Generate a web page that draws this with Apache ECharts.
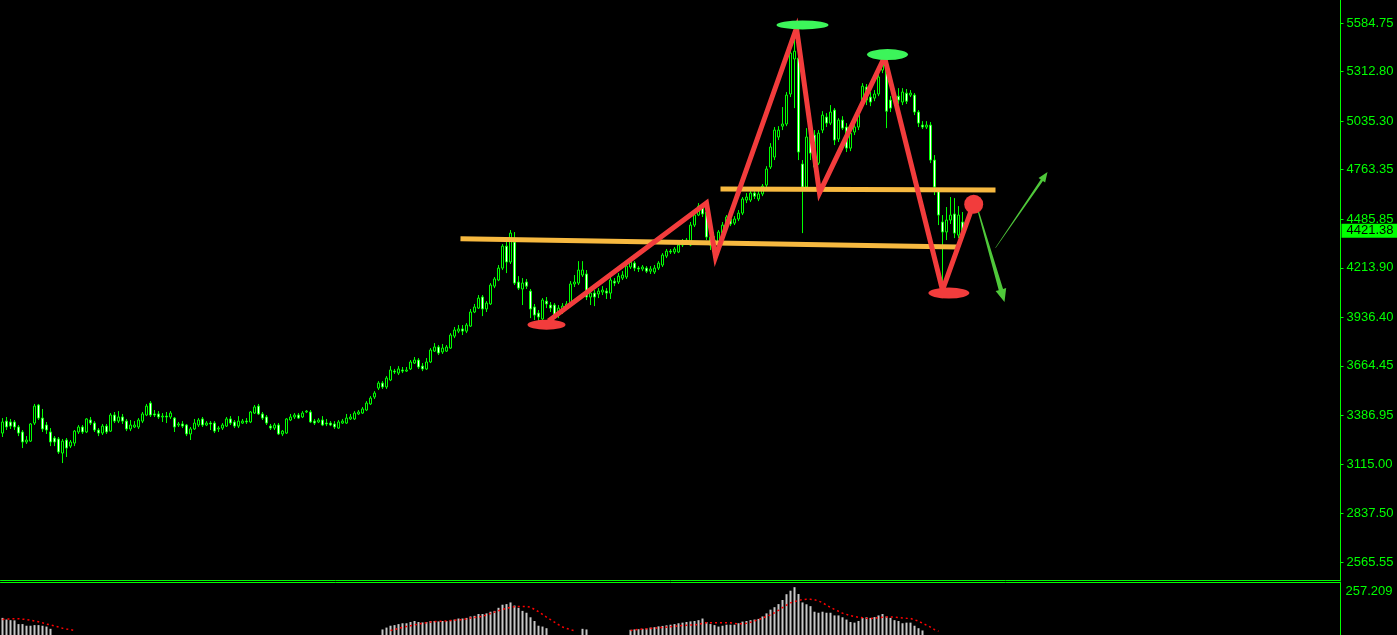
<!DOCTYPE html>
<html><head><meta charset="utf-8">
<script src="https://cdn.jsdelivr.net/npm/echarts@6/dist/echarts.min.js"></script>
<style>html,body{margin:0;padding:0;background:#000;overflow:hidden}#c{width:1397px;height:635px}</style>
</head><body><div id="c"></div>
<script>
// ---------------- DATA ----------------
const slotCount = 335;
const priceTicks = [5584.75, 5312.80, 5035.30, 4763.35, 4485.85, 4213.90, 3936.40, 3664.45, 3386.95, 3115.00, 2837.50, 2565.55];
const priceRange = [2465.0, 5713.6];
const lastPrice = 4421.38;
const macdTop = 257.209;

// [open, close, low, high]
const candles = [
[3288,3350,3266,3372],[3355,3322,3305,3378],[3350,3327,3311,3367],[3350,3322,3305,3361],[3322,3288,3271,3333],
[3294,3238,3204,3305],[3238,3249,3227,3271],[3243,3339,3238,3344],[3344,3439,3333,3451],[3445,3372,3361,3451],
[3372,3311,3294,3423],[3333,3305,3283,3350],[3294,3238,3215,3316],[3260,3238,3215,3271],[3255,3182,3171,3266],
[3176,3243,3120,3255],[3249,3204,3154,3260],[3215,3238,3204,3249],[3232,3299,3215,3305],[3294,3322,3283,3333],
[3322,3294,3283,3333],[3294,3367,3288,3372],[3361,3344,3333,3378],[3344,3305,3294,3355],[3305,3288,3271,3316],
[3288,3327,3277,3339],[3327,3294,3283,3339],[3299,3389,3294,3400],[3389,3355,3344,3406],[3355,3378,3344,3411],
[3378,3355,3339,3395],[3355,3311,3299,3367],[3311,3333,3299,3361],[3322,3333,3316,3355],[3322,3361,3311,3372],
[3355,3395,3344,3406],[3389,3439,3383,3451],[3456,3389,3378,3467],[3395,3389,3378,3417],[3395,3378,3367,3411],
[3378,3383,3350,3400],[3383,3378,3344,3406],[3378,3400,3367,3411],[3372,3322,3294,3378],[3333,3339,3322,3350],
[3339,3327,3316,3355],[3333,3283,3271,3339],[3283,3311,3249,3322],[3311,3344,3305,3367],[3333,3361,3322,3372],
[3367,3333,3322,3378],[3333,3344,3327,3355],[3344,3339,3305,3355],[3344,3299,3288,3355],[3311,3316,3294,3327],
[3316,3333,3305,3344],[3327,3367,3322,3378],[3367,3344,3333,3383],[3350,3327,3316,3361],[3327,3355,3316,3383],
[3344,3355,3339,3367],[3355,3350,3339,3372],[3350,3406,3344,3411],[3400,3434,3395,3445],[3439,3395,3389,3451],
[3395,3372,3361,3406],[3378,3344,3333,3389],[3327,3316,3305,3339],[3316,3333,3305,3344],[3333,3283,3277,3344],
[3283,3299,3271,3305],[3288,3367,3283,3372],[3361,3378,3355,3395],[3378,3389,3367,3400],[3389,3372,3367,3400],
[3378,3400,3372,3411],[3406,3411,3400,3417],[3406,3350,3344,3417],[3355,3344,3333,3367],[3350,3361,3344,3372],
[3361,3333,3327,3383],[3344,3339,3327,3367],[3344,3333,3327,3355],[3339,3322,3311,3355],[3316,3350,3311,3361],
[3344,3355,3339,3367],[3344,3372,3339,3395],[3367,3378,3361,3395],[3367,3400,3361,3411],[3395,3406,3389,3417],
[3400,3423,3395,3434],[3417,3456,3411,3467],[3451,3484,3445,3495],[3490,3512,3479,3523],[3540,3568,3529,3579],
[3568,3546,3535,3579],[3546,3596,3535,3607],[3585,3641,3579,3663],[3635,3630,3619,3647],[3624,3647,3613,3663],
[3641,3635,3624,3658],[3635,3641,3630,3658],[3647,3686,3641,3697],[3680,3697,3675,3714],[3697,3658,3647,3708],
[3663,3647,3635,3680],[3647,3686,3641,3708],[3686,3753,3680,3764],[3747,3770,3742,3792],[3770,3736,3725,3781],
[3742,3764,3731,3787],[3747,3770,3742,3781],[3764,3837,3759,3848],[3831,3865,3820,3882],[3859,3871,3848,3893],
[3871,3859,3837,3893],[3859,3893,3848,3904],[3887,3966,3882,3983],[3966,3994,3960,4011],[3988,4044,3983,4061],
[4050,3983,3943,4061],[3983,4016,3966,4027],[4011,4117,4005,4128],[4111,4151,4100,4162],[4145,4212,4139,4229],
[4212,4335,4201,4347],[4335,4246,4184,4369],[4246,4408,4235,4425],[4358,4128,4117,4414],[4134,4100,4089,4167],
[4095,4128,4005,4156],[4134,4111,4095,4151],[4083,3983,3932,4095],[3994,3949,3921,4011],[3960,3938,3915,3977],
[3927,4033,3915,4044],[4027,4011,3988,4050],[4005,3988,3966,4022],[4005,3949,3932,4016],[3949,3988,3932,4005],
[3966,3999,3955,4016],[3994,4011,3983,4027],[4016,4123,4005,4139],[4123,4134,4106,4173],[4128,4201,4117,4251],
[4173,4201,4162,4251],[4179,4050,4033,4201],[4050,4072,4005,4089],[4072,4050,3999,4089],[4067,4083,4044,4100],
[4078,4089,4061,4111],[4083,4072,4039,4100],[4072,4145,4039,4162],[4139,4128,4111,4156],[4134,4167,4123,4184],
[4156,4173,4145,4195],[4162,4223,4151,4235],[4218,4246,4207,4257],[4240,4212,4195,4251],[4212,4207,4190,4223],
[4207,4218,4195,4229],[4212,4195,4184,4223],[4195,4207,4179,4223],[4190,4212,4179,4229],[4212,4240,4201,4251],
[4229,4285,4218,4296],[4279,4307,4268,4319],[4307,4302,4291,4319],[4302,4319,4291,4330],[4302,4341,4296,4352],
[4341,4363,4330,4375],[4352,4369,4341,4380],[4341,4453,4335,4470],[4453,4509,4442,4526],[4509,4559,4503,4576],
[4559,4515,4498,4576],[4526,4386,4369,4565],[4386,4341,4313,4397],[4341,4369,4313,4391],[4347,4414,4335,4425],
[4408,4453,4397,4470],[4464,4498,4453,4509],[4487,4459,4447,4498],[4464,4487,4453,4503],[4487,4520,4475,4537],
[4520,4599,4509,4610],[4593,4610,4576,4632],[4593,4632,4582,4649],[4632,4615,4599,4649],[4599,4627,4587,4649],
[4627,4671,4615,4683],[4677,4767,4666,4783],[4778,4890,4767,4912],[4834,4985,4817,5002],[4946,4985,4929,5007],
[5007,5019,4985,5114],[5019,5181,5007,5198],[5187,5416,5170,5433],[5383,5427,5108,5595],[5388,4862,4817,5433],
[4795,4666,4408,4817],[4666,4946,4649,4996],[4968,4856,4817,4996],[4957,4778,4761,4985],[4800,4968,4789,4985],
[4985,5069,4968,5091],[5058,5024,5002,5080],[5024,5086,5013,5125],[5097,4929,4901,5108],[4935,5041,4918,5052],
[5041,4996,4985,5063],[5002,4884,4862,5024],[4884,4968,4867,4985],[4974,5002,4957,5019],[5002,5069,4985,5086],
[5153,5231,5108,5248],[5226,5153,5125,5243],[5170,5142,5119,5198],[5164,5187,5147,5209],[5187,5282,5175,5310],
[5321,5360,5304,5388],[5343,5091,4996,5377],[5153,5108,5086,5175],[5147,5175,5131,5198],[5175,5153,5131,5220],
[5142,5198,5125,5220],[5192,5147,5131,5215],[5181,5192,5170,5209],[5181,5086,5069,5192],[5086,5024,5002,5097],
[5013,5002,4991,5035],[5002,5013,4991,5035],[5013,4817,4800,5030],[4817,4666,4621,4845],[4649,4509,4453,4660],
[4470,4414,4106,4509],[4414,4481,4369,4554],[4481,4509,4459,4610],[4515,4408,4380,4604],[4397,4509,4380,4559],
[4470,4421.38,4408,4526]
];

// MACD histogram [barIndex, value] (only bars that show above the pane bottom)
const macdHist = [
[0,83],[1,75],[2,72],[3,71],[4,53],[5,53],[6,45],[7,45],[8,48],[9,48],[10,45],[11,41],[12,30],
[95,27],[96,36],[97,45],[98,48],[99,53],[100,57],[101,57],[102,63],[103,68],[104,63],[105,61],[106,63],[107,68],
[108,68],[109,66],[110,68],[111,68],[112,71],[113,75],[114,80],[115,80],[116,83],[117,90],[118,93],[119,102],
[120,102],[121,105],[122,113],[123,117],[124,132],[125,147],[126,150],[127,158],[128,143],[129,132],[130,117],
[131,108],[132,86],[133,68],[134,45],[135,41],[136,33],[145,30],[146,27],
[157,25],[158,27],[159,28],[160,30],[161,32],[162,36],[163,38],[164,42],[165,44],[166,47],[167,50],[168,53],
[169,57],[170,60],[171,63],[172,66],[173,68],[174,72],[175,80],[176,63],[177,53],[178,48],[179,41],[180,45],
[181,50],[182,50],[183,50],[184,57],[185,65],[186,68],[187,72],[188,75],[189,78],[190,90],[191,105],[192,123],
[193,135],[194,150],[195,170],[196,198],[197,215],[198,232],[199,199],[200,158],[201,149],[202,140],[203,113],
[204,108],[205,113],[206,108],[207,108],[208,95],[209,95],[210,86],[211,75],[212,63],[213,60],[214,68],[215,83],
[216,86],[217,83],[218,87],[219,95],[220,102],[221,90],[222,83],[223,72],[224,68],[225,57],[226,60],[227,60],
[228,45],[229,33],[230,22]
];

// MACD signal (dotted) [barIndex, value]; null = not visible
const macdSignal = [
[0,75],[1,77],[2,78],[3,79],[4,79],[5,77],[6,75],[7,72],[8,68],[9,64],[10,59],[11,53],[12,49],[13,44],[14,39],
[15,33],[16,29],[17,26],[18,22],[19,null],
[97,22],[98,27],[99,32],[100,37],[101,41],[102,45],[103,49],[104,53],[105,57],[106,60],[107,63],[108,65],[109,66],
[110,67],[111,68],[112,70],[113,72],[114,73],[115,75],[116,78],[117,82],[118,85],[119,88],[120,91],[121,97],
[122,104],[123,111],[124,118],[125,124],[126,130],[127,134],[128,137],[129,138],[130,138],[131,138],[132,135],
[133,124],[134,113],[135,100],[136,87],[137,75],[138,62],[139,50],[140,39],[141,32],[142,26],[143,21],[144,null],
[157,22],[158,25],[159,27],[160,29],[161,30],[162,32],[163,33],[164,35],[165,37],[166,38],[167,40],[168,42],
[169,44],[170,46],[171,47],[172,48],[173,48],[174,52],[175,56],[176,59],[177,60],[178,60],[179,60],[180,60],
[181,60],[182,59],[183,56],[184,54],[185,55],[186,57],[187,62],[188,68],[189,75],[190,82],[191,90],[192,98],
[193,108],[194,120],[195,133],[196,145],[197,156],[198,162],[199,168],[200,172],[201,173],[202,173],[203,171],
[204,165],[205,157],[206,145],[207,134],[208,124],[209,115],[210,106],[211,100],[212,94],[213,90],[214,86],
[215,84],[216,81],[217,80],[218,82],[219,84],[220,86],[221,87],[222,87],[223,87],[224,85],[225,83],[226,81],
[227,80],[228,74],[229,67],[230,57],[231,48],[232,38],[233,26],[234,18]
];

// Drawn annotations, in [bar position, price]
const supportLine = [[114.5, 4377], [238.75, 4330]];
const necklineLine = [[179.5, 4655], [248.25, 4649]];
const zigzag = [[136.5, 3916], [176, 4577], [178.25, 4274], [198.5, 5557], [204.25, 4633], [220.5, 5394], [235, 4089], [242.75, 4571]];
const topMarks = [[200, 5574], [221.25, 5408]];
const bottomMarks = [[136, 3895], [236.6, 4072]];
const pivotMark = [[242.8, 4570]];
const arrows = [[244, 4526, 250.5, 4022], [248.25, 4325, 261.25, 4750]];

// ---------------- STYLE / RENDER ----------------
const LIME = '#00ff00';
const RED = '#f23c3c';
const categories = [];
for (let i = 0; i < slotCount; i++) categories.push(String(i));
const topMarkSizes = [[52, 9], [41, 11]];
const bottomMarkSizes = [[38, 10], [41, 11]];
const arrowStyles = [
  { w0: 1.2, w1: 4.5, head: 13, headW: 11, color: '#4fc83a' },
  { w0: 0.4, w1: 2.6, head: 10, headW: 8, color: '#4fc83a' }
];

const chart = echarts.init(document.getElementById('c'), null, { renderer: 'canvas' });
const option = {
  backgroundColor: '#000',
  animation: false,
  textStyle: { fontFamily: 'Liberation Sans' },
  grid: [
    { left: 0.5, right: 56.5, top: 0, height: 580 },
    { left: 0.5, right: 56.5, top: 582, height: 58 }
  ],
  xAxis: [
    { type: 'category', gridIndex: 0, data: categories, boundaryGap: true,
      axisLine: { show: true, onZero: false, lineStyle: { color: LIME, width: 1 } },
      axisTick: { show: false }, axisLabel: { show: false }, splitLine: { show: false } },
    { type: 'value', gridIndex: 0, min: -0.5, max: slotCount - 0.5, show: false,
      axisLine: { show: false, onZero: false } },
    { type: 'category', gridIndex: 1, data: categories, boundaryGap: true, position: 'top',
      axisLine: { show: true, onZero: false, lineStyle: { color: LIME, width: 1 } },
      axisTick: { show: false }, axisLabel: { show: false }, splitLine: { show: false } }
  ],
  yAxis: [
    { type: 'value', gridIndex: 0, position: 'right', min: priceRange[0], max: priceRange[1],
      axisLine: { show: true, onZero: false, lineStyle: { color: LIME, width: 1 } },
      axisTick: { show: true, inside: false, length: 3, customValues: priceTicks, lineStyle: { color: LIME } },
      axisLabel: { customValues: priceTicks, color: LIME, fontSize: 13, margin: 6,
        formatter: v => Number(v).toFixed(2) },
      splitLine: { show: false } },
    { type: 'value', gridIndex: 1, position: 'right', min: 0, max: macdTop,
      axisLine: { show: true, onZero: false, lineStyle: { color: LIME, width: 1 } },
      axisTick: { show: false },
      axisLabel: { customValues: [macdTop], color: LIME, fontSize: 13, margin: 5, verticalAlign: 'top',
        padding: [3, 0, 0, 0], formatter: v => Number(v).toFixed(3) },
      splitLine: { show: false } }
  ],
  series: [
    { type: 'candlestick', xAxisIndex: 0, yAxisIndex: 0, data: candles, barWidth: 2, z: 2,
      itemStyle: { color: '#000000', color0: '#ffffff', borderColor: LIME, borderColor0: LIME, borderWidth: 1 },
      markLine: { silent: true, symbol: ['none', 'none'], animation: false,
        lineStyle: { color: 'rgba(0,0,0,0)', width: 0 },
        label: { show: true, position: 'end', distance: 1, formatter: () => lastPrice.toFixed(2),
          color: '#000', backgroundColor: LIME, fontSize: 13, padding: [1, 4, 0, 5] },
        data: [{ yAxis: lastPrice }] } },
    { type: 'line', xAxisIndex: 1, yAxisIndex: 0, data: supportLine, symbol: 'none', z: 4,
      lineStyle: { color: '#f7b940', width: 5, cap: 'butt' } },
    { type: 'line', xAxisIndex: 1, yAxisIndex: 0, data: necklineLine, symbol: 'none', z: 4,
      lineStyle: { color: '#f7b940', width: 5, cap: 'butt' } },
    { type: 'line', xAxisIndex: 1, yAxisIndex: 0, data: zigzag, symbol: 'none', z: 5,
      lineStyle: { color: RED, width: 5, join: 'miter', cap: 'butt' } },
    { type: 'scatter', xAxisIndex: 1, yAxisIndex: 0, z: 6, symbol: 'circle',
      data: topMarks.map((p, k) => ({ value: p, symbolSize: topMarkSizes[k] })),
      itemStyle: { color: '#3cf55a', opacity: 1 } },
    { type: 'scatter', xAxisIndex: 1, yAxisIndex: 0, z: 6, symbol: 'circle',
      data: bottomMarks.map((p, k) => ({ value: p, symbolSize: bottomMarkSizes[k] })),
      itemStyle: { color: RED, opacity: 1 } },
    { type: 'scatter', xAxisIndex: 1, yAxisIndex: 0, z: 6, symbol: 'circle', symbolSize: 19,
      data: pivotMark, itemStyle: { color: RED, opacity: 1 } },
    { type: 'custom', xAxisIndex: 1, yAxisIndex: 0, z: 7, data: arrows,
      encode: { x: [0, 2], y: [1, 3] },
      renderItem: function (params, api) {
        const s = arrowStyles[params.dataIndex];
        const a = api.coord([api.value(0), api.value(1)]);
        const b = api.coord([api.value(2), api.value(3)]);
        const dx = b[0] - a[0], dy = b[1] - a[1];
        const len = Math.hypot(dx, dy);
        const ux = dx / len, uy = dy / len, nx = -uy, ny = ux;
        const bx = b[0] - ux * s.head, by = b[1] - uy * s.head;
        const pts = [
          [a[0] + nx * s.w0 / 2, a[1] + ny * s.w0 / 2],
          [bx + nx * s.w1 / 2, by + ny * s.w1 / 2],
          [bx + nx * s.headW / 2, by + ny * s.headW / 2],
          [b[0], b[1]],
          [bx - nx * s.headW / 2, by - ny * s.headW / 2],
          [bx - nx * s.w1 / 2, by - ny * s.w1 / 2],
          [a[0] - nx * s.w0 / 2, a[1] - ny * s.w0 / 2]
        ];
        return { type: 'polygon', shape: { points: pts }, style: { fill: s.color } };
      } },
    { type: 'bar', xAxisIndex: 2, yAxisIndex: 1, data: macdHist, barWidth: 2, z: 2,
      itemStyle: { color: '#c8c8c8' } },
    { type: 'line', xAxisIndex: 2, yAxisIndex: 1, data: macdSignal, symbol: 'none', z: 3,
      connectNulls: false, lineStyle: { color: '#ff0000', width: 1.5, type: [2, 3] } }
  ]
};
chart.setOption(option);
</script>
</body></html>
